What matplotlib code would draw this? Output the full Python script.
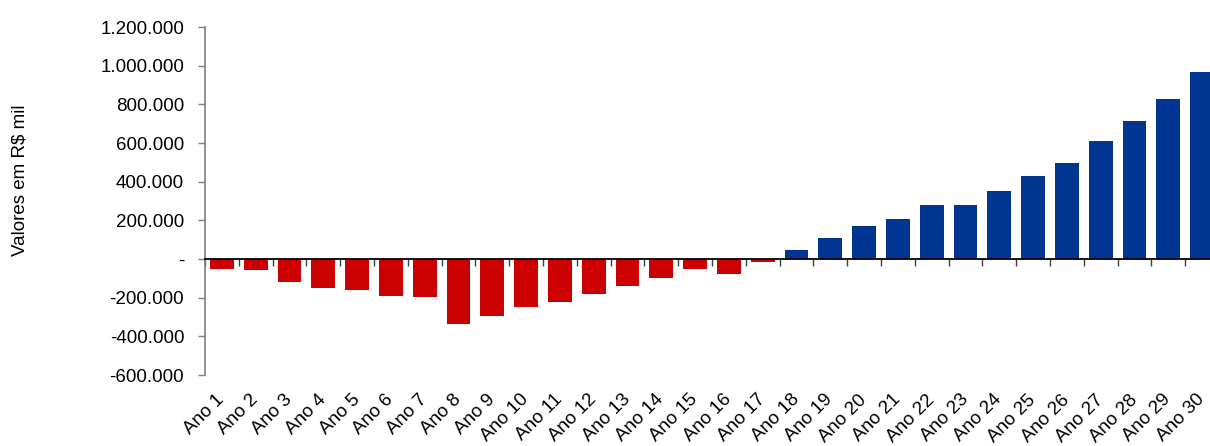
import matplotlib
matplotlib.use("Agg")
import matplotlib.pyplot as plt
from matplotlib.ticker import FuncFormatter, FixedLocator
import numpy as np

plt.rcParams['font.family'] = ['Liberation Sans', 'DejaVu Sans']

# Fluxo acumulado por ano (R$ mil)
anos = [f"Ano {i}" for i in range(1, 31)]
valores = [
    -52000, -57000, -117000, -150000, -162000, -190000, -198000, -334000,
    -295000, -248000, -221000, -179000, -140000, -100000, -52000, -76000,
    -14000, 44000, 110000, 172000, 205000, 279000, 279000, 353000,
    427000, 499000, 610000, 713000, 830000, 968000,
]
y_ticks = [-600000, -400000, -200000, 0, 200000, 400000, 600000,
           800000, 1000000, 1200000]
y_label = "Valores em R$ mil"

cor_neg = "#CC0000"
cor_pos = "#003591"

W, H = 1210, 446
fig = plt.figure(figsize=(W / 100, H / 100), dpi=100)
left, right, top, bottom = 205, 1219, 27, 375
ax = fig.add_axes([left / W, 1 - bottom / H, (right - left) / W, (bottom - top) / H])

x = np.arange(len(valores))
cores = [cor_pos if v >= 0 else cor_neg for v in valores]
ax.bar(x, valores, width=0.71, color=cores, zorder=2)

ax.set_xlim(-0.5, len(valores) - 0.5)
ax.set_ylim(y_ticks[0], y_ticks[-1])


def fmt(v, pos):
    if v == 0:
        return "-"
    return f"{v:,.0f}".replace(",", ".")


ax.yaxis.set_major_locator(FixedLocator(y_ticks))
ax.yaxis.set_major_formatter(FuncFormatter(fmt))
ax.tick_params(axis='y', direction='out', length=5, width=1, color='#7f7f7f',
               labelsize=13.5, pad=10, labelcolor='black')

for s in ['top', 'right']:
    ax.spines[s].set_visible(False)
ax.spines['left'].set_color('#7f7f7f')
ax.spines['left'].set_linewidth(1.2)
ax.spines['bottom'].set_position(('data', 0))
ax.spines['bottom'].set_color('black')
ax.spines['bottom'].set_linewidth(1.3)
ax.spines['bottom'].set_zorder(3)

# tick marks at the category boundaries on the zero line
ax.set_xticks(np.arange(len(valores) + 1) - 0.5)
ax.set_xticklabels([])
ax.tick_params(axis='x', direction='out', length=5, width=1, color='#404040')

# category labels along the bottom of the plot
sec = ax.secondary_xaxis('bottom')
sec.spines['bottom'].set_visible(False)
sec.set_xticks(x)
sec.set_xticklabels(anos, rotation=45, ha='right', va='center',
                    rotation_mode='anchor', fontsize=13.5)
sec.tick_params(axis='x', length=0, pad=16)

fig.text(20 / W, 1 - 180 / H, y_label, rotation=90, ha='center', va='center',
         fontsize=13.5)

fig.savefig("out.png", dpi=100, facecolor='white')
